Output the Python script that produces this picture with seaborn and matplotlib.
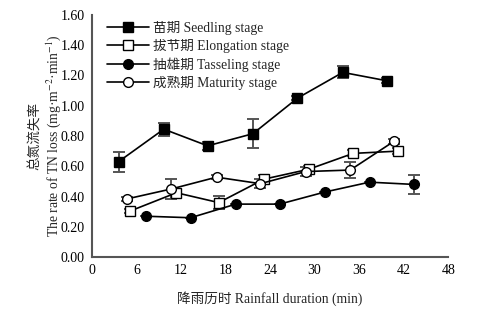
import matplotlib
matplotlib.use("Agg")
import matplotlib.pyplot as plt
import seaborn as sns
import pandas as pd

# Data
seed_x = [3.6, 9.7, 15.6, 21.7, 27.7, 33.8, 39.7]
seed_y = [0.63, 0.845, 0.735, 0.815, 1.05, 1.22, 1.165]
seed_e = [0.065, 0.043, 0.025, 0.095, 0.015, 0.04, 0.015]

elong_x = [5.2, 11.4, 17.1, 23.2, 29.2, 35.2, 41.2]
elong_y = [0.305, 0.425, 0.36, 0.515, 0.58, 0.685, 0.70]
elong_e = [0.015, 0.02, 0.045, 0.03, 0.02, 0.02, 0.02]

tassel_x = [7.3, 13.3, 19.4, 25.3, 31.4, 37.4, 43.4]
tassel_y = [0.27, 0.26, 0.35, 0.35, 0.43, 0.495, 0.48]
tassel_e = [0.0, 0.0, 0.0, 0.0, 0.0, 0.0, 0.065]

mat_x = [4.8, 10.7, 16.8, 22.7, 28.8, 34.8, 40.7]
mat_y = [0.385, 0.45, 0.528, 0.485, 0.565, 0.575, 0.765]
mat_e = [0.015, 0.065, 0.015, 0.03, 0.03, 0.055, 0.015]

labels = ["苗期 Seedling stage", "拔节期 Elongation stage",
          "抽雄期 Tasseling stage", "成熟期 Maturity stage"]

sns.set_style("white")
plt.rcParams['font.family'] = ['Liberation Serif', 'Noto Sans CJK SC']
plt.rcParams['mathtext.fontset'] = 'stix'

fig = plt.figure(figsize=(4.83, 3.23), dpi=100)
ax = fig.add_axes([0.19, 0.204, 0.738, 0.75])

series = [
    (seed_x, seed_y, seed_e, 's', 'black'),
    (elong_x, elong_y, elong_e, 's', 'white'),
    (tassel_x, tassel_y, tassel_e, 'o', 'black'),
    (mat_x, mat_y, mat_e, 'o', 'white'),
]

for (xs, ys, es, mk, fc), lab in zip(series, labels):
    ax.errorbar(xs, ys, yerr=es, fmt='none', ecolor='#555555',
                elinewidth=1.4, capsize=4, capthick=1.4, zorder=2)
    df = pd.DataFrame({'x': xs, 'y': ys})
    sns.lineplot(data=df, x='x', y='y', ax=ax, color='black', linewidth=1.2,
                 marker=mk, markersize=7, markerfacecolor=fc,
                 markeredgecolor='black', markeredgewidth=1.0,
                 label=lab, zorder=3)

ax.set_xlim(0, 48)
ax.set_ylim(0, 1.6)
ax.set_xticks(range(0, 49, 6))
ax.set_yticks([i * 0.2 for i in range(9)])
ax.set_yticklabels([f"{i*0.2:.2f}" for i in range(9)])

for s in ['top', 'right']:
    ax.spines[s].set_visible(False)
for s in ['left', 'bottom']:
    ax.spines[s].set_color('#555555')
    ax.spines[s].set_linewidth(1.5)
ax.tick_params(direction='in', length=5, width=1.3, color='#555555',
               labelsize=10, labelcolor='black', pad=5)

ax.set_xlabel("降雨历时 Rainfall duration (min)", fontsize=9.8)
ax.xaxis.set_label_coords(0.5, -0.14)
ax.set_ylabel("总氮流失率\nThe rate of TN loss (mg·m$^{-2}$·min$^{-1}$)",
              fontsize=9.8, linespacing=1.1)
ax.yaxis.set_label_coords(-0.082, 0.5)

leg = ax.legend(loc='upper left', frameon=False, fontsize=9.8,
                handlelength=3.1, handletextpad=0.3, borderaxespad=0.0,
                borderpad=0.0, labelspacing=0.3,
                bbox_to_anchor=(0.042, 0.975))

fig.savefig("out.png", dpi=100)
